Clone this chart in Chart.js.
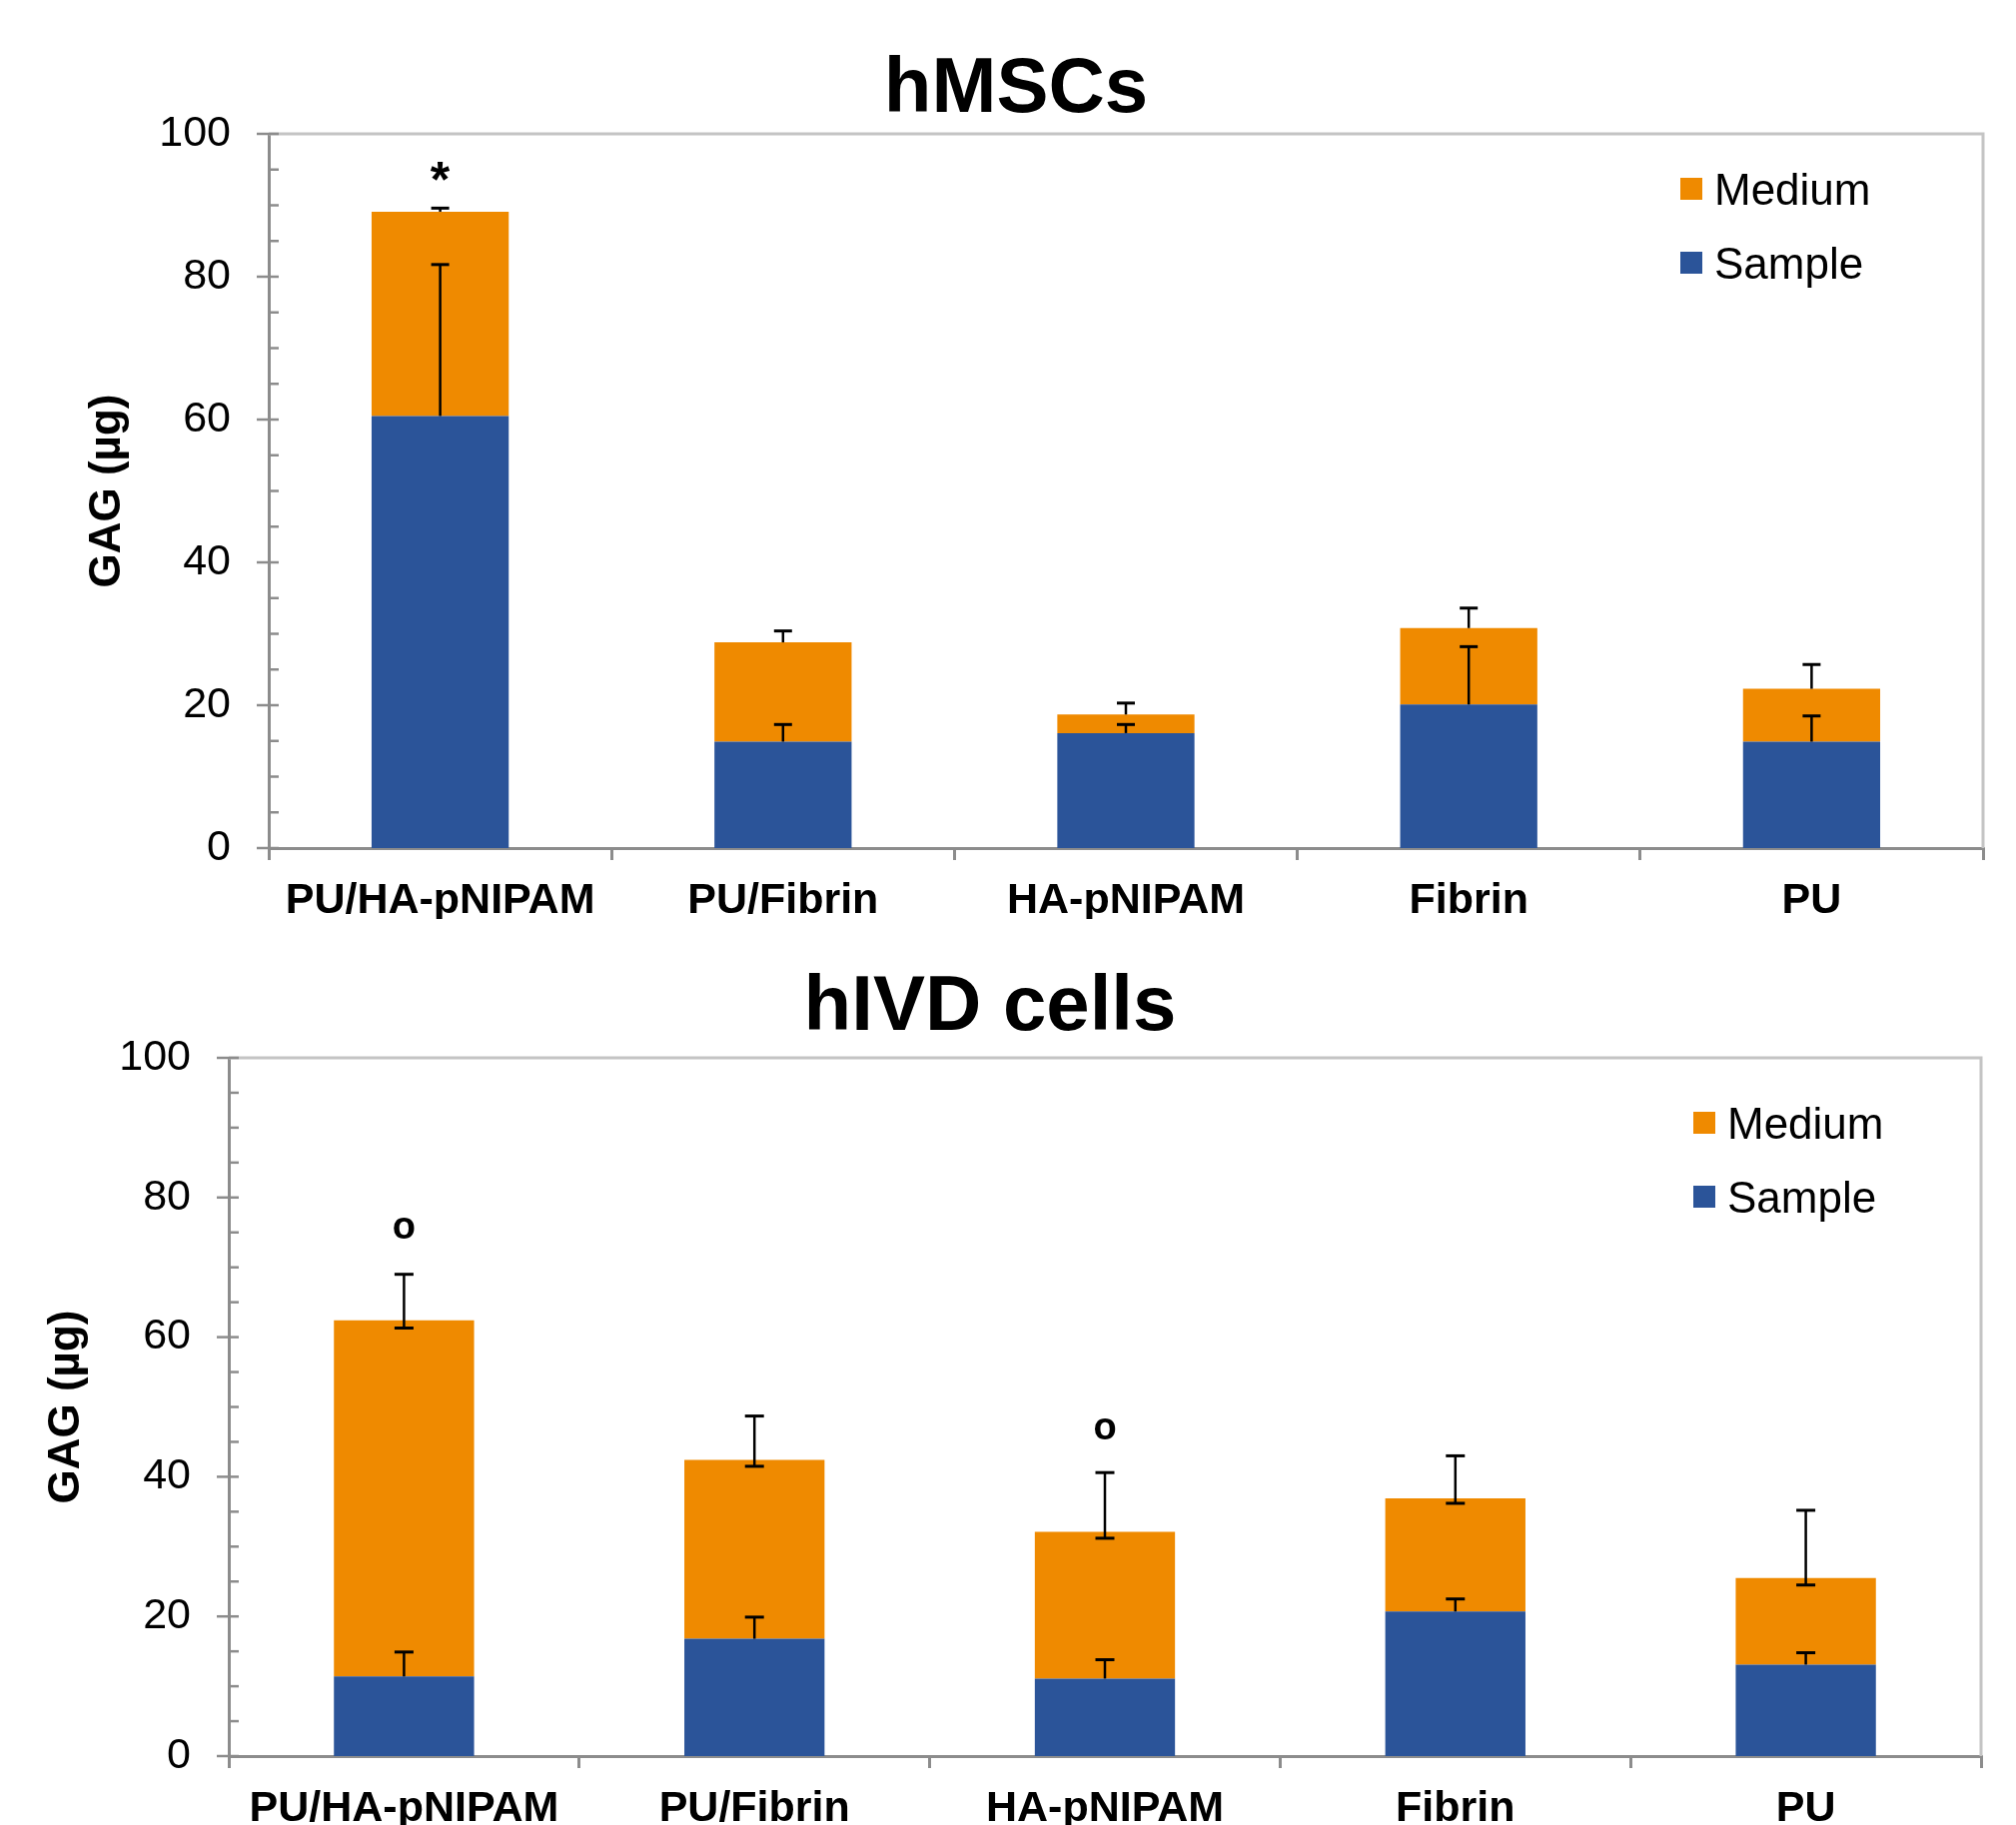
<!DOCTYPE html>
<html><head><meta charset="utf-8">
<script src="https://cdn.jsdelivr.net/npm/chart.js@4.4.0/dist/chart.umd.min.js"></script>
<style>
html,body{margin:0;padding:0;background:#fff;}
#wrap{position:relative;width:2018px;height:1827px;overflow:hidden;background:#fff;}
.box{position:absolute;left:0;width:2018px;}
#b1{top:0;height:920px;}
#b2{top:920px;height:907px;}
canvas{display:block;}
</style></head><body>
<div id="wrap">
  <div class="box" id="b1"><canvas id="c1" width="2018" height="920"></canvas></div>
  <div class="box" id="b2"><canvas id="c2" width="2018" height="907"></canvas></div>
</div>
<script>
// ---------------- data ----------------
const categories = ['PU/HA-pNIPAM', 'PU/Fibrin', 'HA-pNIPAM', 'Fibrin', 'PU'];
const seriesNames = ['Sample', 'Medium'];
const yMin = 0, yMax = 100, yStep = 20, yMinorStep = 5;

// hMSCs
const hmscSample      = [60.5, 14.9, 16.1, 20.1, 14.9];
const hmscMedium      = [28.6, 13.9, 2.6, 10.7, 7.4];
const hmscSampleErr   = [81.7, 17.3, 17.3, 28.2, 18.5];   // upper end of error bar
const hmscMediumErr   = [89.6, 30.4, 20.3, 33.6, 25.7];
const hmscMediumErrLo = [null, null, null, null, null];
const hmscMarks       = ['*', '', '', '', ''];
const hmscMarkAt      = [94.7, null, null, null, null];

// hIVD cells
const hivdSample      = [11.4, 16.8, 11.1, 20.7, 13.1];
const hivdMedium      = [51.0, 25.6, 21.0, 16.2, 12.4];
const hivdSampleErr   = [14.9, 19.9, 13.8, 22.5, 14.8];
const hivdMediumErr   = [69.0, 48.7, 40.6, 43.0, 35.2];
const hivdMediumErrLo = [61.3, 41.5, 31.2, 36.2, 24.5];
const hivdMarks       = ['o', '', 'o', '', ''];
const hivdMarkAt      = [75.6, null, 46.8, null, null];

// ---------------- style ----------------
const BLUE = '#2B5499';
const ORANGE = '#EF8A00';
const AXIS = '#8c8c8c';
const FRAME = '#c4c4c4';
const FONT = '"Liberation Sans", Arial, sans-serif';

function centerText(ctx, text, cx, cy) {
  const m = ctx.measureText(text);
  const asc = m.actualBoundingBoxAscent, desc = m.actualBoundingBoxDescent;
  ctx.textAlign = 'center';
  ctx.textBaseline = 'alphabetic';
  ctx.fillText(text, cx, cy + (asc - desc) / 2);
}

const decor = {
  id: 'decor',
  afterDatasetsDraw(chart, args, o) {
    const {ctx, scales: {y}} = chart;
    ctx.save();
    ctx.strokeStyle = '#000';
    // error bars
    o.errors.forEach(e => {
      const meta = chart.getDatasetMeta(e.ds);
      meta.data.forEach((bar, i) => {
        const hi = e.high[i];
        if (hi == null) return;
        const x = bar.x;
        const yTop = bar.y;
        const yHi = y.getPixelForValue(hi);
        const lo = e.low ? e.low[i] : null;
        const yLo = lo == null ? yTop : y.getPixelForValue(lo);
        ctx.lineWidth = 2.5;
        ctx.beginPath(); ctx.moveTo(x, yLo); ctx.lineTo(x, yHi); ctx.stroke();
        ctx.lineWidth = 3;
        ctx.beginPath(); ctx.moveTo(x - o.cap / 2, yHi); ctx.lineTo(x + o.cap / 2, yHi); ctx.stroke();
        if (lo != null) {
          ctx.beginPath(); ctx.moveTo(x - o.cap / 2, yLo); ctx.lineTo(x + o.cap / 2, yLo); ctx.stroke();
        }
      });
    });
    // significance marks
    const meta0 = chart.getDatasetMeta(0);
    o.marks.forEach((m, i) => {
      if (!m || o.markAt[i] == null) return;
      ctx.fillStyle = '#000';
      ctx.font = (m === '*' ? 'bold 50px ' : 'bold 38px ') + FONT;
      centerText(ctx, m, meta0.data[i].x, y.getPixelForValue(o.markAt[i]));
    });
    ctx.restore();
  },
  afterDraw(chart, args, o) {
    const {ctx, chartArea: a, scales: {y}} = chart;
    ctx.save();
    // frame (top & right)
    ctx.strokeStyle = FRAME; ctx.lineWidth = 3;
    ctx.beginPath(); ctx.moveTo(a.left, a.top); ctx.lineTo(a.right, a.top); ctx.lineTo(a.right, a.bottom); ctx.stroke();
    // y ticks: major cross the axis, minor inside
    ctx.strokeStyle = AXIS; ctx.lineWidth = 2.5;
    for (let v = yMin; v <= yMax; v += yMinorStep) {
      const py = y.getPixelForValue(v);
      const major = v % yStep === 0;
      ctx.beginPath(); ctx.moveTo(a.left - (major ? 12 : 0), py); ctx.lineTo(a.left + 10, py); ctx.stroke();
    }
    // title
    ctx.fillStyle = '#000';
    ctx.font = 'bold 78px ' + FONT;
    centerText(ctx, o.title, o.titleX, o.titleY);
    // legend
    ctx.font = '44px ' + FONT;
    o.legend.forEach((li, k) => {
      const ds = chart.data.datasets[li];
      const cy = o.legY + k * o.legGap;
      ctx.fillStyle = ds.backgroundColor;
      ctx.fillRect(a.right - o.legDX, cy - 11, 22, 22);
      ctx.fillStyle = '#000';
      ctx.textAlign = 'left'; ctx.textBaseline = 'alphabetic';
      const m = ctx.measureText('M');
      ctx.fillText(ds.label, a.right - o.legDX + 34, cy + m.actualBoundingBoxAscent / 2);
    });
    ctx.restore();
  }
};

function build(el, p) {
  return new Chart(el, {
    type: 'bar',
    data: {
      labels: categories,
      datasets: [
        {label: seriesNames[0], data: p.sample, backgroundColor: BLUE, borderWidth: 0},
        {label: seriesNames[1], data: p.medium, backgroundColor: ORANGE, borderWidth: 0}
      ]
    },
    options: {
      responsive: false, animation: false, devicePixelRatio: 1,
      layout: {padding: {top: p.top, right: p.right, left: 0, bottom: 0}},
      datasets: {bar: {categoryPercentage: 1, barPercentage: 0.4}},
      scales: {
        x: {
          stacked: true,
          afterFit: s => { s.height = p.xh; },
          grid: {display: true, drawOnChartArea: false, drawTicks: true, tickLength: 12, color: AXIS, lineWidth: 3, offset: true},
          border: {display: true, color: AXIS, width: 3},
          ticks: {color: '#000', padding: 15, font: {family: FONT, size: 43, weight: 'bold'}, maxRotation: 0, autoSkip: false}
        },
        y: {
          stacked: true, min: yMin, max: yMax,
          afterFit: s => { s.width = p.left; },
          grid: {display: false, drawTicks: false},
          border: {display: true, color: AXIS, width: 3},
          ticks: {stepSize: yStep, color: '#000', padding: 38, font: {family: FONT, size: 43}},
          title: {display: true, text: 'GAG (µg)', color: '#000', font: {family: FONT, size: 44, weight: 'bold'}, padding: {top: p.ytPad, bottom: 0}}
        }
      },
      plugins: {
        legend: {display: false},
        tooltip: {enabled: false},
        decor: {
          errors: [
            {ds: 0, high: p.sampleErr, low: null},
            {ds: 1, high: p.mediumErr, low: p.mediumErrLo}
          ],
          cap: p.cap,
          marks: p.marks, markAt: p.markAt,
          title: p.title, titleX: p.titleX, titleY: p.titleY,
          legend: [1, 0], legY: p.legY, legGap: 74, legDX: p.legDX
        }
      }
    },
    plugins: [decor]
  });
}

build(document.getElementById('c1'), {
  sample: hmscSample, medium: hmscMedium,
  sampleErr: hmscSampleErr, mediumErr: hmscMediumErr, mediumErrLo: hmscMediumErrLo,
  marks: hmscMarks, markAt: hmscMarkAt,
  title: 'hMSCs', titleX: 1017, titleY: 84,
  top: 134, right: 33, left: 269, xh: 71, ytPad: 81, cap: 18,
  legY: 189, legDX: 303
});
build(document.getElementById('c2'), {
  sample: hivdSample, medium: hivdMedium,
  sampleErr: hivdSampleErr, mediumErr: hivdMediumErr, mediumErrLo: hivdMediumErrLo,
  marks: hivdMarks, markAt: hivdMarkAt,
  title: 'hIVD cells', titleX: 991, titleY: 83,
  top: 139, right: 35, left: 229, xh: 69, ytPad: 40, cap: 19,
  legY: 204, legDX: 288
});
</script>
</body></html>
